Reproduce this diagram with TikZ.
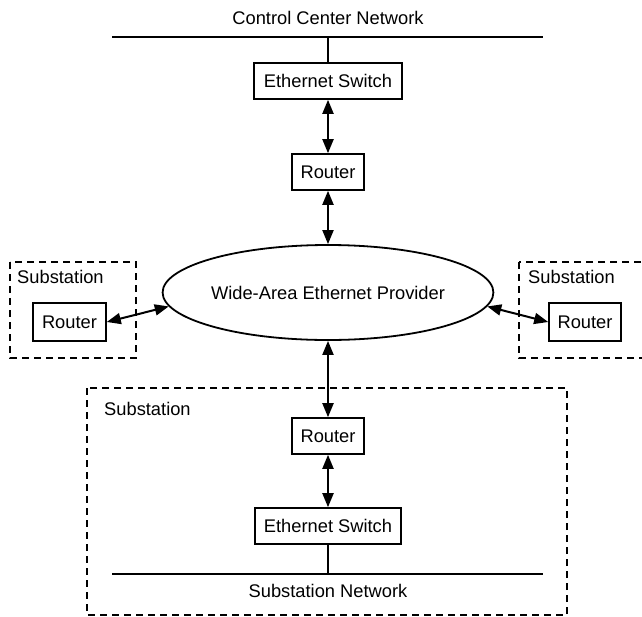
\documentclass[tikz,border=0pt]{standalone}
\usepackage{fontspec}
\setmainfont{Liberation Sans}
\usetikzlibrary{arrows.meta,shapes.geometric}

\begin{document}
\begin{tikzpicture}[x=1pt,y=-1pt,
  every node/.style={font=\fontsize{18.3}{22}\selectfont},
  box/.style={draw, line width=1.6pt, inner sep=0pt, minimum height=36pt},
  cloud/.style={draw, ellipse, line width=1.8pt, inner sep=0pt},
  link/.style={line width=2pt, {Triangle[length=14pt,width=11pt]}-{Triangle[length=14pt,width=11pt]}},
  wire/.style={line width=2pt},
  zone/.style={line width=1.8pt, dash pattern=on 7pt off 5pt},
  lbl/.style={anchor=west, inner sep=0pt}]
\useasboundingbox (0,0) rectangle (642,616);

% substation enclosures
\draw[zone] (10,262) rectangle (136,358);
\draw[zone] (519,262) rectangle (646,358);
\draw[zone] (87,388) rectangle (567,615);
\node[lbl] (subLtxt) at (17,277) {Substation};
\node[lbl] (subRtxt) at (528,277) {Substation};
\node[lbl] (subBtxt) at (104,409) {Substation};

% control center side
\node (cctxt) at (328,18) {Control Center Network};
\coordinate (ccl) at (112,37);
\coordinate (ccr) at (543,37);
\draw[wire] (ccl) -- (ccr);
\node[box, minimum width=148pt] (csw) at (328,81) {Ethernet Switch};
\node[box, minimum width=72pt] (crt) at (328,172) {Router};
\draw[wire] (csw.north) -- (csw.north |- ccl);

% wide-area provider
\node[cloud, minimum width=330pt, minimum height=95pt] (wan) at (328,292.5) {Wide-Area Ethernet Provider};

% outlying substations
\node[box, minimum width=73pt, minimum height=38pt] (rtL) at (69.5,322) {Router};
\node[box, minimum width=72pt, minimum height=38pt] (rtR) at (585,322) {Router};

% main substation
\node[box, minimum width=72pt] (srt) at (328,436) {Router};
\node[box, minimum width=146pt] (ssw) at (328,526) {Ethernet Switch};
\coordinate (snl) at (112,574);
\coordinate (snr) at (543,574);
\draw[wire] (snl) -- (snr);
\draw[wire] (ssw.south) -- (ssw.south |- snl);
\node (sntxt) at (328,591) {Substation Network};

% links
\draw[link] (csw.south) -- (crt.north);
\draw[link] (crt.south) -- (wan.north);
\draw[link] (wan.south) -- (srt.north);
\draw[link] (srt.south) -- (ssw.north);
\draw[link] (rtL.east) -- (wan.185);
\draw[link] (wan.-5) -- (rtR.west);
\end{tikzpicture}
\end{document}
